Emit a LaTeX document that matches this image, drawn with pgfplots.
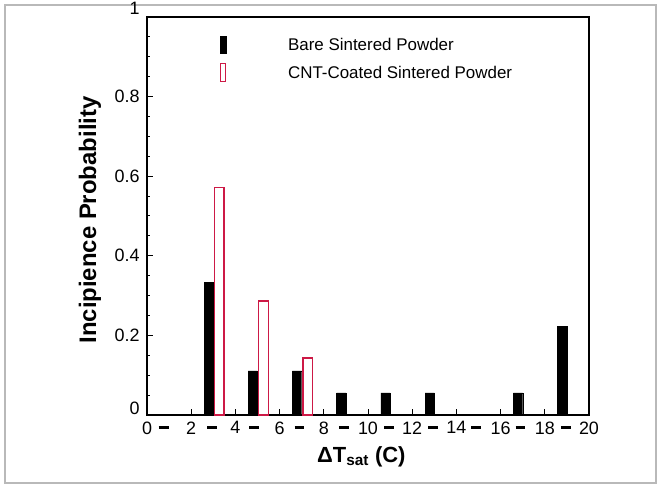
\documentclass[border=0pt]{standalone}
\usepackage{pgfplots}
\pgfplotsset{compat=1.18}
\usepackage{fontspec}
\setmainfont{Liberation Sans}
\definecolor{cntred}{RGB}{205,25,70}
\newcommand{\dsh}{\vphantom{0}\rule[0.3em]{0.55em}{0.17em}}
\begin{document}
\begin{tikzpicture}
\useasboundingbox (-147bp,-69bp) rectangle (510bp,415bp);
\draw[gray!55, line width=1.2bp] (-142bp,-68bp) rectangle (509bp,410bp);
\begin{axis}[
  at={(0,0)}, anchor=south west,
  scale only axis, width=442bp, height=398bp,
  xmin=0, xmax=20, ymin=0, ymax=1,
  axis line style={line width=1.4bp},
  tick style={black, line width=1bp},
  tick align=inside,
  xtick={0,2,...,20},
  xticklabels={0,2,4,6,8,10,12,14,16,18,20},
  extra x ticks={0.75,2.95,4.85,6.9,8.9,10.95,12.95,14.9,16.9,18.95},
  extra x tick labels={\dsh,\dsh,\dsh,\dsh,\dsh,\dsh,\dsh,\dsh,\dsh,\dsh},
  extra x tick style={major tick length=0pt},
  major tick length=6bp,
  minor tick length=3bp,
  ytick={0,0.2,0.4,0.6,0.8,1},
  yticklabels={\raisebox{1bp}[0pt][0pt]{0},0.2,0.4,0.6,0.8,\raisebox{2bp}[0pt][0pt]{1}},
  minor y tick num=3,
  xtick pos=bottom, ytick pos=left,
  ticklabel style={font=\fontsize{18}{20}\selectfont},
  xticklabel style={yshift=-3bp},
  yticklabel style={xshift=-4bp},
  xlabel={\textbf{ΔT\textsubscript{sat} (C)}},
  xlabel style={at={(rel axis cs:0.485,0)}, anchor=north, yshift=-28bp, font=\fontsize{22}{24}\selectfont},
  ylabel={\textbf{Incipience Probability}},
  ylabel style={at={(rel axis cs:0,0.49)}, anchor=center, yshift=57bp, font=\fontsize{24}{26}\selectfont},
  legend style={at={(axis cs:3.28,0.952)}, anchor=north west, draw=none, fill=none,
    font=\fontsize{17}{19}\selectfont, column sep=60bp, row sep=9bp, inner sep=0pt},
  legend cell align=left,
]
\addplot[ybar, bar width=0.42, bar shift=0pt, fill=black, draw=black,
  legend image code/.code={\fill[black] (0bp,-8.5bp) rectangle (6bp,8.5bp);}]
  coordinates {(2.79,0.333) (4.79,0.111) (6.79,0.111) (8.79,0.0556) (10.79,0.0556) (12.79,0.0556) (16.79,0.0556) (18.79,0.222)};
\addlegendentry{Bare Sintered Powder}
\addplot[ybar, bar width=0.43, bar shift=0pt, fill=white, draw=cntred, line width=1.4bp,
  legend image code/.code={\draw[cntred, line width=1.3bp, fill=white] (0.5bp,-9bp) rectangle (5.5bp,9bp);}]
  coordinates {(3.27,0.571) (5.27,0.286) (7.27,0.143)};
\addlegendentry{CNT-Coated Sintered Powder}
\end{axis}
\end{tikzpicture}
\end{document}
